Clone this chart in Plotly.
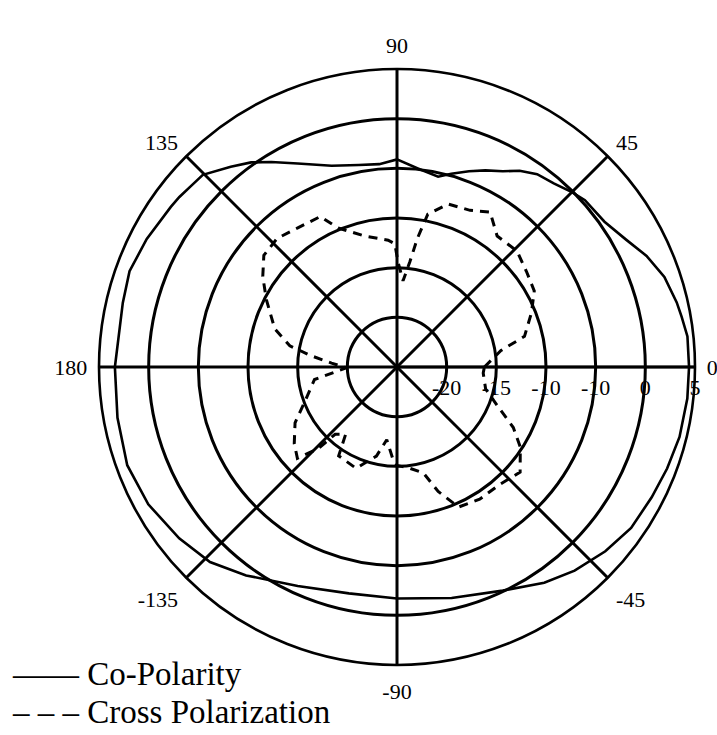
import plotly.graph_objects as go

# Measured antenna pattern (angle in degrees, level in dB)
co_theta = [0, 6, 10, 13, 18.6, 24, 29, 35, 41.6, 45, 49.5, 54, 58, 61.6, 65.8, 69.8,
            74.3, 77.8, 84, 90, 95, 100.7, 108, 116, 121.5, 125.5, 129.7, 135.3, 138.5,
            142, 144.7, 152.9, 160.3, 166.8, 180, 190.3, 200, 208.9, 218.2, 226.2, 234.1,
            245.6, 258, 270, 283.3, 295.3, 304.3, 311.1, 318.5, 325.5, 332.9, 339.4,
            346.1, 353.8]
co_db = [4.4, 4.4, 4.1, 3.9, 3.4, 2.5, 1.4, 0.5, 0.3, -0.1, -0.7, -1.0, -1.7, -2.6, -3.3,
         -4.0, -4.8, -5.4, -4.9, -4.1, -4.5, -4.3, -3.7, -2.2, -0.8, 0.3, 1.2, 2.5, 2.6,
         2.8, 2.9, 3.3, 3.6, 3.35, 3.4, 3.6, 3.9, 3.6, 2.9, 2.2, 0.9, -0.8, -1.7, -1.7,
         -1.1, -0.1, 1.3, 2.2, 3.0, 3.6, 3.8, 4.05, 4.3, 4.4]

cx_theta = [0, 9, 13.5, 22, 29, 36.5, 44, 52.6, 59, 65, 72.5, 78.6, 81, 83, 86, 89.5, 91,
            94, 104, 113, 117, 125.5, 133, 140, 146, 152.7, 162.6, 168.8, 172.4, 176.6,
            181, 188.6, 200.5, 208.7, 216.7, 222.5, 226, 227.4, 232.6, 236.7, 248, 257,
            262, 267.5, 270, 277.5, 284, 288.3, 293.7, 302, 311, 319.5, 327, 332.5, 338,
            346, 356]
cx_db = [-16.2, -14.4, -11.8, -10.4, -9.2, -8.8, -8.2, -8.4, -6.8, -7.6, -7.8, -9.3,
         -11.9, -14.3, -16.3, -14.4, -12.6, -12.2, -11.4, -9.8, -8.0, -7.8, -7.3, -7.5,
         -8.7, -10.2, -12.1, -14.0, -16.2, -18.4, -19.9, -16.6, -15.1, -13.3, -12.1,
         -11.4, -13.6, -15.8, -16.5, -14.3, -14.0, -15.8, -17.6, -15.7, -15.1, -14.7,
         -14.0, -11.8, -9.6, -9.3, -9.3, -8.7, -10.2, -11.8, -13.9, -15.8, -16.3]

radial_ticks = [-20, -15, -10, -5, 0, 5]
radial_labels = ["-20", "-15", "-10", "-10", "0", "5"]
angle_ticks = [0, 45, 90, 135, 180, 225, 270, 315]
angle_labels = ["0", "45", "90", "135", "180", "-135", "-90", "-45"]

FONT = "Liberation Serif"

fig = go.Figure()
fig.add_trace(go.Scatterpolar(
    r=co_db + co_db[:1], theta=co_theta + co_theta[:1], mode="lines",
    name="Co-Polarity", line=dict(color="black", width=2.6), showlegend=False))
fig.add_trace(go.Scatterpolar(
    r=cx_db + cx_db[:1], theta=cx_theta + cx_theta[:1], mode="lines",
    name="Cross Polarization", line=dict(color="black", width=3, dash="9px,7px"),
    showlegend=False))

fig.update_layout(
    width=717, height=735,
    margin=dict(l=0, r=0, t=0, b=0),
    paper_bgcolor="white",
    font=dict(family=FONT, color="black", size=22),
    polar=dict(
        domain=dict(x=[99 / 717, 695 / 717], y=[70 / 735, 666 / 735]),
        bgcolor="white",
        radialaxis=dict(
            range=[-25, 5], tickmode="array", tickvals=radial_ticks, ticktext=radial_labels,
            angle=0, side="clockwise", showline=True, linecolor="black", linewidth=2.5,
            showgrid=True, gridcolor="black", gridwidth=2.5, ticks="",
            tickfont=dict(family=FONT, size=22, color="black")),
        angularaxis=dict(
            direction="counterclockwise", rotation=0, tickmode="array",
            tickvals=angle_ticks, ticktext=angle_labels, showline=True,
            linecolor="black", linewidth=2.6, showgrid=True, gridcolor="black",
            gridwidth=2.5, ticks="outside", ticklen=6, tickcolor="rgba(0,0,0,0)",
            tickfont=dict(family=FONT, size=22, color="black")),
    ),
    annotations=[
        dict(text="—— Co-Polarity", x=10 / 717, y=1 - 674 / 735, xref="paper", yref="paper",
             xanchor="left", yanchor="middle", showarrow=False,
             font=dict(family=FONT, size=33, color="black")),
        dict(text="– – – Cross Polarization", x=10 / 717, y=1 - 712 / 735, xref="paper",
             yref="paper", xanchor="left", yanchor="middle", showarrow=False,
             font=dict(family=FONT, size=33, color="black")),
    ],
)

fig.write_html("out.html")
